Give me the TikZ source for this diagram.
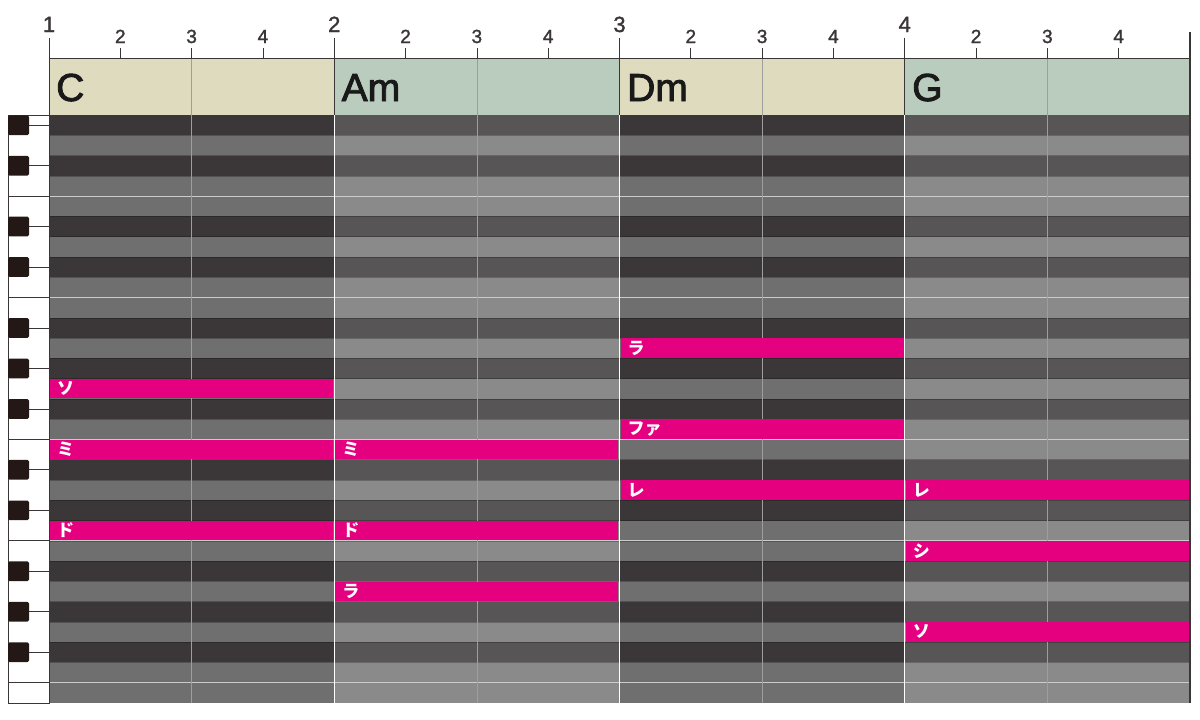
\documentclass[tikz,border=0pt]{standalone}
\usepackage{fontspec}
\setmainfont{Liberation Sans}
\newfontfamily\jpfont{Noto Sans CJK JP}
\newfontfamily\rulerfont{Liberation Sans}[FakeBold=1.4]
\newfontfamily\chordfont{Liberation Sans}[FakeBold=2.2]
\usepackage{tikz}
\definecolor{hdrbeige}{HTML}{DFDBBE}
\definecolor{hdrgreen}{HTML}{B9CCBE}
\definecolor{darkA}{HTML}{3B3738}
\definecolor{lightA}{HTML}{6F6F6F}
\definecolor{darkB}{HTML}{575556}
\definecolor{lightB}{HTML}{8A8A8A}
\definecolor{notemagenta}{HTML}{E4007F}
\definecolor{keyblack}{HTML}{231815}
\definecolor{inkgray}{HTML}{3A3536}

\begin{document}
\begin{tikzpicture}[x=1pt, y=-1pt]
\tikzset{rowsep/.style={black, opacity=0.25, line width=0.5pt}}
\tikzset{octline/.style={white!80!black, line width=1pt}}
\tikzset{beatline/.style={white!62!black, line width=0.6pt}}
\tikzset{barline/.style={white, line width=1pt}}
\tikzset{hdrbox/.style={draw=inkgray, line width=0.8pt}}
\tikzset{note/.style={fill=notemagenta, anchor=north west, inner xsep=7pt, inner ysep=0pt,
    minimum height=19.6pt, text width=269pt, align=left, text=white,
    font=\jpfont\bfseries\fontsize{17}{17}\selectfont}}
\tikzset{chord/.style={anchor=base west, inner sep=0pt, text=black!90,
    font=\chordfont\fontsize{39}{39}\selectfont}}
\tikzset{barnum/.style={anchor=base, inner sep=0pt, text=inkgray, font=\rulerfont\fontsize{22}{22}\selectfont}}
\tikzset{beatnum/.style={anchor=base, inner sep=0pt, text=inkgray, font=\rulerfont\fontsize{19}{19}\selectfont}}
    \useasboundingbox (0,0) rectangle (1200,720);
    \fill[white] (0,0) rectangle (1200,720);
% % % % % % % % % % % % % % % % % % % bar 1 : C
    \filldraw[fill=hdrbeige, hdrbox] (49,58) rectangle (334.25,115);
    \fill[lightA] (49,115) rectangle (334.25,703);
    \foreach \r in {0,2,5,7,10,12,14,17,19,22,24,26}
      \fill[darkA] (49,{115+\r*20.276}) rectangle (334.25,{135.276+\r*20.276});
% % % % % % % % % % % % % % % % % % % bar 2 : Am
    \filldraw[fill=hdrgreen, hdrbox] (334.25,58) rectangle (619.5,115);
    \fill[lightB] (334.25,115) rectangle (619.5,703);
    \foreach \r in {0,2,5,7,10,12,14,17,19,22,24,26}
      \fill[darkB] (334.25,{115+\r*20.276}) rectangle (619.5,{135.276+\r*20.276});
% % % % % % % % % % % % % % % % % % % bar 3 : Dm
    \filldraw[fill=hdrbeige, hdrbox] (619.5,58) rectangle (904.75,115);
    \fill[lightA] (619.5,115) rectangle (904.75,703);
    \foreach \r in {0,2,5,7,10,12,14,17,19,22,24,26}
      \fill[darkA] (619.5,{115+\r*20.276}) rectangle (904.75,{135.276+\r*20.276});
% % % % % % % % % % % % % % % % % % % bar 4 : G
    \filldraw[fill=hdrgreen, hdrbox] (904.75,58) rectangle (1190,115);
    \fill[lightB] (904.75,115) rectangle (1190,703);
    \foreach \r in {0,2,5,7,10,12,14,17,19,22,24,26}
      \fill[darkB] (904.75,{115+\r*20.276}) rectangle (1190,{135.276+\r*20.276});
% % % % % % % % % % % % % % % % % % % grid lines
    \foreach \r in {1,...,28}
      \draw[rowsep] (49,{115+\r*20.276}) -- (1190,{115+\r*20.276});
    \foreach \r in {4,9,16,21,28}
      \draw[octline] (49,{115+\r*20.276}) -- (1190,{115+\r*20.276});
    \foreach \x in {191.6,476.9,762.1,1047.4} {
      \draw[inkgray, line width=0.8pt] (\x,48) -- (\x,58);
      \draw[beatline] (\x,58) -- (\x,703);
    }
    \foreach \x in {334.25,619.5,904.75}
      \draw[barline] (\x,115) -- (\x,703);
% % % % % % % % % % % % % % % % % % % notes
    \node[note] (cSo) at (50,378.59) {ソ};
    \node[note] (cMi) at (50,439.42) {ミ};
    \node[note] (cDo) at (50,520.52) {ド};
    \node[note] (amMi) at (335.25,439.42) {ミ};
    \node[note] (amDo) at (335.25,520.52) {ド};
    \node[note] (amLa) at (335.25,581.35) {ラ};
    \node[note] (dmLa) at (620.5,338.04) {ラ};
    \node[note] (dmFa) at (620.5,419.14) {ファ};
    \node[note] (dmRe) at (620.5,479.97) {レ};
    \node[note] (gRe) at (905.75,479.97) {レ};
    \node[note] (gSi) at (905.75,540.80) {シ};
    \node[note] (gSo) at (905.75,621.90) {ソ};
% % % % % % % % % % % % % % % % % % % piano keys
    \filldraw[fill=white, draw=inkgray, line width=0.8pt] (8,115) rectangle (49,703);
    \foreach \r in {4,9,16,21,28}
      \draw[inkgray, line width=0.8pt] (8,{115+\r*20.276}) -- (49,{115+\r*20.276});
    \foreach \r in {0,2,5,7,10,12,14,17,19,22,24,26} {
      \draw[inkgray, line width=0.7pt] (29,{125.138+\r*20.276}) -- (49,{125.138+\r*20.276});
      \fill[keyblack, rounded corners=1.5pt] (8,{115.3+\r*20.276}) rectangle (29,{135+\r*20.276});
    }
% % % % % % % % % % % % % % % % % % % ruler
    \draw[inkgray, line width=0.8pt] (49,58) -- (1190,58);
    \foreach \x in {49,334.25,619.5,904.75}
      \draw[inkgray, line width=0.8pt] (\x,38) -- (\x,115);
    \foreach \x in {120.3,262.9,405.6,548.1,690.8,833.4,976.1,1118.6}
      \draw[inkgray, line width=0.8pt] (\x,48) -- (\x,58);
    \draw[inkgray, line width=1.8pt] (1190,32) -- (1190,703);
    \node[barnum] (m1) at (49,32) {1};
    \node[barnum] (m2) at (334.25,32) {2};
    \node[barnum] (m3) at (619.5,32) {3};
    \node[barnum] (m4) at (904.75,32) {4};
    \foreach \b/\x in {0/49,1/334.25,2/619.5,3/904.75} {
      \node[beatnum] (bt2-\b) at (\x+71.3,43) {2};
      \node[beatnum] (bt3-\b) at (\x+142.6,43) {3};
      \node[beatnum] (bt4-\b) at (\x+213.9,43) {4};
    }
% % % % % % % % % % % % % % % % % % % chord names
    \node[chord] (chC) at (56,101) {C};
    \node[chord] (chAm) at (341.5,101) {Am};
    \node[chord] (chDm) at (627,101) {Dm};
    \node[chord] (chG) at (912,101) {G};
\end{tikzpicture}
\end{document}
